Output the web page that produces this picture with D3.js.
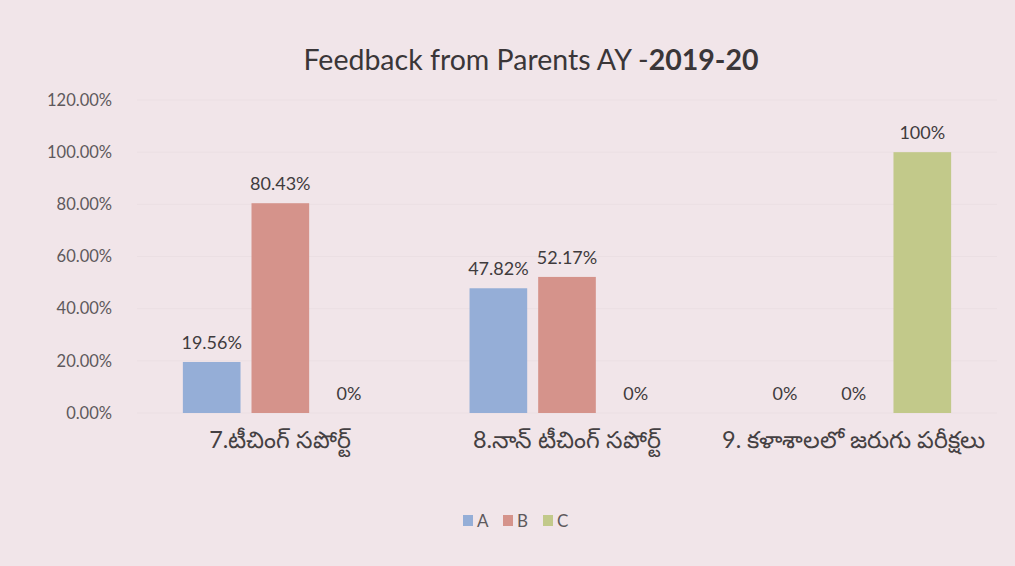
<!DOCTYPE html>
<html>
<head>
<meta charset="utf-8">
<script src="https://cdn.jsdelivr.net/npm/d3@7"></script>
<style>
  body { margin: 0; background: #f1e5e9; }
  svg { display: block; font-family: Lato, "Open Sans", "Noto Sans", sans-serif; }
</style>
</head>
<body>
<div id="chart"></div>
<script>
// data
const categories = ["7.టీచింగ్ సపోర్ట్", "8.నాన్ టీచింగ్ సపోర్ట్", "9. కళాశాలలో జరుగు పరీక్షలు"];
const seriesNames = ["A", "B", "C"];
const valuesA = [0.1956, 0.4782, 0];
const valuesB = [0.8043, 0.5217, 0];
const valuesC = [0, 0, 1.0];
const dataLabelsA = ["19.56%", "47.82%", "0%"];
const dataLabelsB = ["80.43%", "52.17%", "0%"];
const dataLabelsC = ["0%", "0%", "100%"];
const yTicks = [0, 0.2, 0.4, 0.6, 0.8, 1.0, 1.2];

const colors = { A: "#95aed7", B: "#d5938b", C: "#c2c98a" };

const width = 1015, height = 566;
const margin = { top: 100, right: 18, bottom: 153, left: 137 };

const svg = d3.select("#chart").append("svg")
  .attr("width", width)
  .attr("height", height);

svg.append("rect")
  .attr("width", width).attr("height", height)
  .attr("fill", "#f1e5e9");

const rows = categories.map((c, i) => ({
  cat: c,
  vals: [
    { key: "A", v: valuesA[i], lab: dataLabelsA[i] },
    { key: "B", v: valuesB[i], lab: dataLabelsB[i] },
    { key: "C", v: valuesC[i], lab: dataLabelsC[i] }
  ]
}));

const x0 = d3.scaleBand()
  .domain(categories)
  .range([margin.left, width - margin.right])
  .paddingInner(0.32)
  .paddingOuter(0.16);

const x1 = d3.scaleBand()
  .domain(seriesNames)
  .range([0, x0.bandwidth()])
  .paddingInner(0.16);

const y = d3.scaleLinear()
  .domain([0, 1.2])
  .range([height - margin.bottom, margin.top]);

// gridlines, barely visible in the photo
svg.append("g")
  .selectAll("line")
  .data(yTicks)
  .join("line")
  .attr("x1", margin.left)
  .attr("x2", width - margin.right)
  .attr("y1", d => y(d))
  .attr("y2", d => y(d))
  .attr("stroke", "#ebdfe3")
  .attr("stroke-width", 1);

// y axis labels
const yAxis = d3.axisLeft(y)
  .tickValues(yTicks)
  .tickFormat(d3.format(".2%"))
  .tickSize(0)
  .tickPadding(25);

svg.append("g")
  .attr("transform", `translate(${margin.left},0)`)
  .call(yAxis)
  .call(g => g.select(".domain").remove())
  .selectAll("text")
  .attr("font-family", "Lato, sans-serif")
  .attr("font-size", 16.5)
  .attr("fill", "#5e595c");

// bars
const groups = svg.append("g")
  .selectAll("g")
  .data(rows)
  .join("g")
  .attr("transform", d => `translate(${x0(d.cat)},0)`);

groups.selectAll("rect")
  .data(d => d.vals)
  .join("rect")
  .attr("x", d => x1(d.key))
  .attr("width", x1.bandwidth())
  .attr("y", d => y(d.v))
  .attr("height", d => y(0) - y(d.v))
  .attr("fill", d => colors[d.key]);

groups.selectAll("text")
  .data(d => d.vals)
  .join("text")
  .attr("x", d => x1(d.key) + x1.bandwidth() / 2)
  .attr("y", d => y(d.v) - 13)
  .attr("text-anchor", "middle")
  .attr("font-size", 18)
  .attr("fill", "#3f3b3d")
  .text(d => d.lab);

// category axis labels
svg.append("g")
  .selectAll("text")
  .data(categories)
  .join("text")
  .attr("x", d => x0(d) + x0.bandwidth() / 2)
  .attr("y", y(0) + 35)
  .attr("text-anchor", "middle")
  .attr("font-size", 23.5)
  .attr("fill", "#444042")
  .text(d => d);

// title
const title = svg.append("text")
  .attr("x", 531)
  .attr("y", 70)
  .attr("text-anchor", "middle")
  .attr("font-size", 28.5)
  .attr("fill", "#3a3638");
title.append("tspan").text("Feedback from Parents AY -");
title.append("tspan").attr("font-weight", "bold").text("2019-20");

// legend
const legend = svg.append("g").attr("transform", "translate(463,527)");
const li = legend.selectAll("g")
  .data(seriesNames)
  .join("g")
  .attr("transform", (d, i) => `translate(${i * 40},0)`);
li.append("rect")
  .attr("x", 0).attr("y", -12)
  .attr("width", 10).attr("height", 11)
  .attr("fill", d => colors[d]);
li.append("text")
  .attr("x", 14).attr("y", 0)
  .attr("font-size", 17)
  .attr("fill", "#5e595c")
  .text(d => d);
</script>
</body>
</html>
